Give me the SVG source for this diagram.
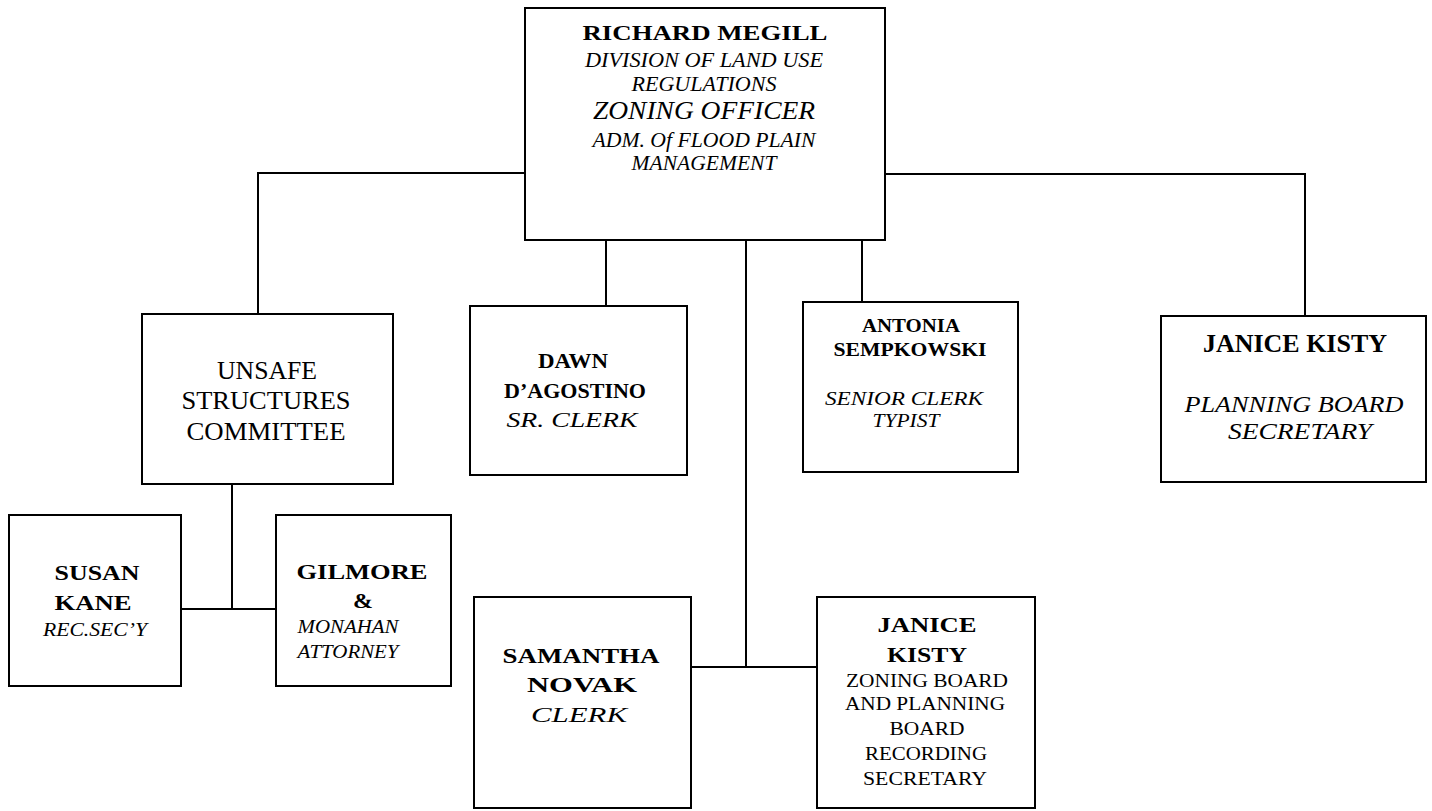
<svg xmlns="http://www.w3.org/2000/svg" width="1432" height="811" viewBox="0 0 1432 811">
<style>
.box{fill:#fff;stroke:#000;stroke-width:2}
.ln{stroke:#000;stroke-width:2;fill:none}
text{font-family:"Liberation Serif","Times New Roman",serif;fill:#000;text-anchor:middle}
.b{font-weight:bold}
.i{font-style:italic}
</style>
<rect width="1432" height="811" fill="#fff"/>
<g id="connectors">
<polyline class="ln" points="525,173 258,173 258,314"/>
<polyline class="ln" points="885,174 1305,174 1305,316"/>
<line class="ln" x1="606" y1="240" x2="606" y2="306"/>
<line class="ln" x1="862" y1="240" x2="862" y2="302"/>
<line class="ln" x1="746" y1="240" x2="746" y2="667"/>
<line class="ln" x1="691" y1="667" x2="817" y2="667"/>
<line class="ln" x1="232" y1="484" x2="232" y2="609"/>
<line class="ln" x1="181" y1="609" x2="276" y2="609"/>
</g>
<g id="richard-megill">
<rect class="box" x="525" y="8" width="360" height="232"/>
<text class="b" x="705" y="40" font-size="22" textLength="245" lengthAdjust="spacingAndGlyphs">RICHARD MEGILL</text>
<text class="i" x="704" y="67" font-size="20" textLength="238" lengthAdjust="spacingAndGlyphs">DIVISION OF LAND USE</text>
<text class="i" x="704" y="91" font-size="20" textLength="145" lengthAdjust="spacingAndGlyphs">REGULATIONS</text>
<text class="i" x="704" y="119" font-size="25" textLength="222" lengthAdjust="spacingAndGlyphs">ZONING OFFICER</text>
<text class="i" x="704" y="147" font-size="20" textLength="223" lengthAdjust="spacingAndGlyphs">ADM. Of FLOOD PLAIN</text>
<text class="i" x="704" y="170" font-size="20" textLength="145" lengthAdjust="spacingAndGlyphs">MANAGEMENT</text>
</g>
<g id="unsafe-structures">
<rect class="box" x="142" y="314" width="251" height="170"/>
<text x="267" y="379" font-size="25" textLength="100" lengthAdjust="spacingAndGlyphs">UNSAFE</text>
<text x="266" y="409" font-size="25" textLength="169" lengthAdjust="spacingAndGlyphs">STRUCTURES</text>
<text x="266" y="440" font-size="25" textLength="159" lengthAdjust="spacingAndGlyphs">COMMITTEE</text>
</g>
<g id="dawn-dagostino">
<rect class="box" x="470" y="306" width="217" height="169"/>
<text class="b" x="573" y="368" font-size="20" textLength="70" lengthAdjust="spacingAndGlyphs">DAWN</text>
<text class="b" x="575" y="398" font-size="20" textLength="142" lengthAdjust="spacingAndGlyphs">D’AGOSTINO</text>
<text class="i" x="572" y="427" font-size="21" textLength="131" lengthAdjust="spacingAndGlyphs">SR. CLERK</text>
</g>
<g id="antonia-sempkowski">
<rect class="box" x="803" y="302" width="215" height="170"/>
<text class="b" x="911" y="332" font-size="18" textLength="98" lengthAdjust="spacingAndGlyphs">ANTONIA</text>
<text class="b" x="910" y="356" font-size="18" textLength="153" lengthAdjust="spacingAndGlyphs">SEMPKOWSKI</text>
<text class="i" x="904" y="405" font-size="18" textLength="158" lengthAdjust="spacingAndGlyphs">SENIOR CLERK</text>
<text class="i" x="906" y="427" font-size="18" textLength="67" lengthAdjust="spacingAndGlyphs">TYPIST</text>
</g>
<g id="janice-kisty-planning">
<rect class="box" x="1161" y="316" width="265" height="166"/>
<text class="b" x="1295" y="352" font-size="25" textLength="184" lengthAdjust="spacingAndGlyphs">JANICE KISTY</text>
<text class="i" x="1294" y="412" font-size="23" textLength="219" lengthAdjust="spacingAndGlyphs">PLANNING BOARD</text>
<text class="i" x="1300" y="439" font-size="23" textLength="144" lengthAdjust="spacingAndGlyphs">SECRETARY</text>
</g>
<g id="susan-kane">
<rect class="box" x="9" y="515" width="172" height="171"/>
<text class="b" x="97" y="580" font-size="22" textLength="85" lengthAdjust="spacingAndGlyphs">SUSAN</text>
<text class="b" x="93" y="610" font-size="22" textLength="77" lengthAdjust="spacingAndGlyphs">KANE</text>
<text class="i" x="95" y="636" font-size="18" textLength="104" lengthAdjust="spacingAndGlyphs">REC.SEC’Y</text>
</g>
<g id="gilmore-monahan">
<rect class="box" x="276" y="515" width="175" height="171"/>
<text class="b" x="362" y="579" font-size="22" textLength="131" lengthAdjust="spacingAndGlyphs">GILMORE</text>
<text class="b" x="363" y="608" font-size="22" textLength="20" lengthAdjust="spacingAndGlyphs">&amp;</text>
<text class="i" x="348" y="633" font-size="19" textLength="101" lengthAdjust="spacingAndGlyphs">MONAHAN</text>
<text class="i" x="348" y="658" font-size="19" textLength="101" lengthAdjust="spacingAndGlyphs">ATTORNEY</text>
</g>
<g id="samantha-novak">
<rect class="box" x="474" y="597" width="217" height="211"/>
<text class="b" x="581" y="663" font-size="22" textLength="157" lengthAdjust="spacingAndGlyphs">SAMANTHA</text>
<text class="b" x="582" y="692" font-size="22" textLength="110" lengthAdjust="spacingAndGlyphs">NOVAK</text>
<text class="i" x="579" y="722" font-size="21" textLength="96" lengthAdjust="spacingAndGlyphs">CLERK</text>
</g>
<g id="janice-kisty-zoning">
<rect class="box" x="817" y="597" width="218" height="211"/>
<text class="b" x="927" y="632" font-size="21" textLength="99" lengthAdjust="spacingAndGlyphs">JANICE</text>
<text class="b" x="927" y="662" font-size="21" textLength="80" lengthAdjust="spacingAndGlyphs">KISTY</text>
<text x="927" y="687" font-size="18" textLength="162" lengthAdjust="spacingAndGlyphs">ZONING BOARD</text>
<text x="925" y="710" font-size="18" textLength="160" lengthAdjust="spacingAndGlyphs">AND PLANNING</text>
<text x="927" y="735" font-size="18" textLength="75" lengthAdjust="spacingAndGlyphs">BOARD</text>
<text x="926" y="760" font-size="18" textLength="122" lengthAdjust="spacingAndGlyphs">RECORDING</text>
<text x="925" y="785" font-size="18" textLength="124" lengthAdjust="spacingAndGlyphs">SECRETARY</text>
</g>
</svg>
